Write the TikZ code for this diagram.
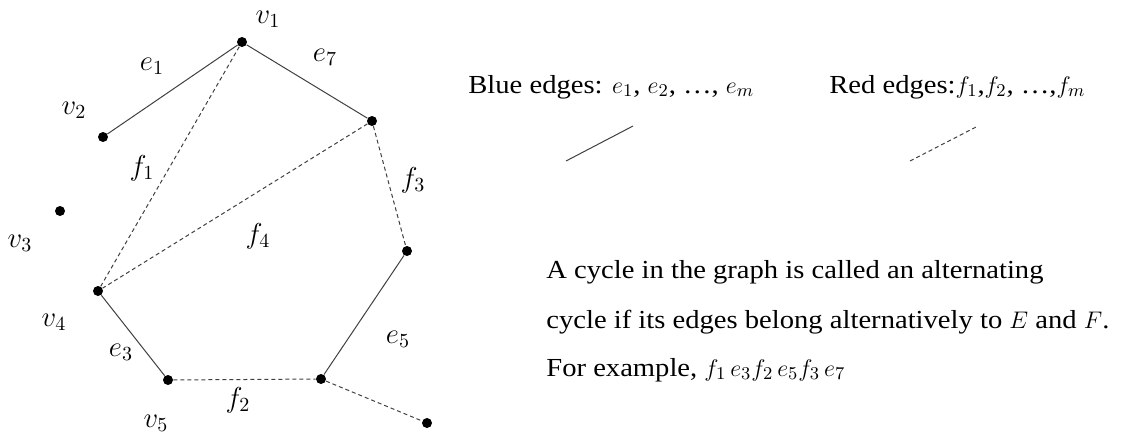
\documentclass[tikz,border=0pt]{standalone}
\usepackage{fontspec}
\setmainfont{Liberation Serif}[FakeStretch=1.1]
\usepackage{tikz}
\usetikzlibrary{positioning}

\begin{document}
\begin{tikzpicture}[
  x=0.5pt, y=-0.5pt,
  vtx/.style={circle, fill=black, inner sep=0pt, minimum size=5pt},
  lbl/.style={font=\fontsize{14.5}{16}\selectfont, inner sep=0pt},
  txt/.style={font=\fontsize{13}{15}\selectfont, anchor=west, inner sep=0pt},
  solidedge/.style={black!75, line width=0.5pt},
  dashedge/.style={black!75, line width=0.5pt, dash pattern=on 2pt off 1.5pt}
]
  \useasboundingbox (0,0) rectangle (1141,435);

  % Vertices
  \node[vtx] (a) at (242,42) {};
  \node[vtx] (b) at (103,137) {};
  \node[vtx] (c) at (60,211) {};
  \node[vtx] (d) at (98,291) {};
  \node[vtx] (g) at (168,380) {};
  \node[vtx] (h) at (372,121) {};
  \node[vtx] (k) at (407,251) {};
  \node[vtx] (m) at (321,379) {};
  \node[vtx] (n) at (427,423) {};

  % Edges
  \draw[solidedge] (a) -- (b);
  \draw[solidedge] (a) -- (h);
  \draw[solidedge] (d) -- (g);
  \draw[solidedge] (k) -- (m);
  \draw[dashedge] (a) -- (d);
  \draw[dashedge] (h) -- (d);
  \draw[dashedge] (h) -- (k);
  \draw[dashedge] (g) -- (m);
  \draw[dashedge] (m) -- (n);

  % Labels
  \node[lbl] (lv1) at (268,19) {$v_1$};
  \node[lbl] (lv2) at (74,110) {$v_2$};
  \node[lbl] (lv3) at (20,243) {$v_3$};
  \node[lbl] (lv4) at (54,322) {$v_4$};
  \node[lbl] (lv5) at (156,423) {$v_5$};
  \node[lbl] (le1) at (152,66) {$e_1$};
  \node[lbl] (le7) at (325,57) {$e_7$};
  \node[lbl] (le3) at (121,352) {$e_3$};
  \node[lbl] (le5) at (398,339) {$e_5$};
  \node[lbl] (lf1) at (142,168) {$f_1$};
  \node[lbl] (lf3) at (413,180) {$f_3$};
  \node[lbl] (lf4) at (258,236) {$f_4$};
  \node[lbl] (lf2) at (238,400) {$f_2$};

  % Legend
  \node[txt] (blue) at (468,87) {Blue edges: $e_1$, $e_2$, \dots, $e_m$};
  \node[txt] (red) at (829,87) {Red edges:$f_1$,$f_2$, \dots,$f_m$};
  \coordinate (bs) at (566,161);
  \coordinate (bt) at (633,126);
  \coordinate (rs) at (910,161);
  \coordinate (rt) at (978,126);
  \draw[solidedge] (bs) -- (bt);
  \draw[dashedge] (rs) -- (rt);

  % Description
  \node[txt] (p1) at (546,272) {A cycle in the graph is called an alternating};
  \node[txt] (p2) at (546,322) {cycle if its edges belong alternatively to $E$ and $F$.};
  \node[txt] (p3) at (546,370) {For example, $f_1\,e_3f_2\,e_5f_3\,e_7$};
\end{tikzpicture}
\end{document}
